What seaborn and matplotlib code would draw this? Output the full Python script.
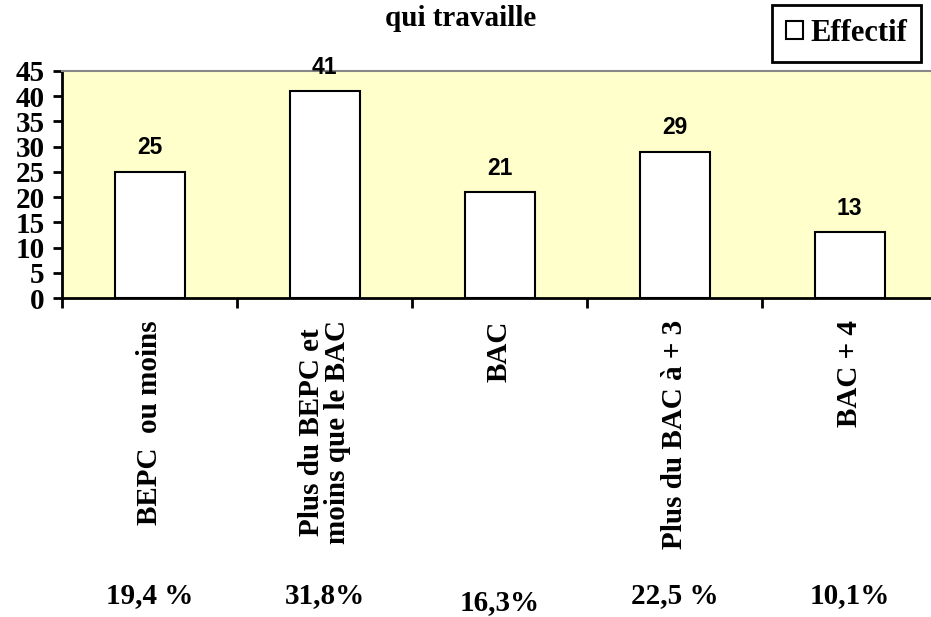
import pandas as pd
import matplotlib.pyplot as plt
import matplotlib.transforms as mtransforms
from matplotlib.patches import Patch
import seaborn as sns

# Data
categories = ["BEPC  ou moins", "Plus du BEPC et\nmoins que le BAC", "BAC",
              "Plus du BAC à + 3", "BAC + 4"]
effectif = [25, 41, 21, 29, 13]
pourcentages = ["19,4 %", "31,8%", "16,3%", "22,5 %", "10,1%"]


def main():
    df = pd.DataFrame({"niveau": categories, "effectif": effectif})

    sns.set_theme(style="white")
    plt.rcParams["font.family"] = ["Liberation Serif", "DejaVu Serif"]
    plt.rcParams["text.color"] = "black"
    plt.rcParams["xtick.color"] = "black"
    plt.rcParams["ytick.color"] = "black"
    plt.rcParams["xtick.labelcolor"] = "black"
    plt.rcParams["ytick.labelcolor"] = "black"

    fig = plt.figure(figsize=(9.31, 6.17), dpi=100)
    ax = fig.add_axes([62 / 931, 0.517, 875 / 931, 0.368])

    sns.barplot(data=df, x="niveau", y="effectif", color="white",
                edgecolor="black", linewidth=1.5, width=0.4, saturation=1, ax=ax)
    ax.set_facecolor("#FFFFCC")
    ax.set_xlim(-0.5, len(categories) - 0.5)
    ax.set_ylim(0, 45)
    ax.set_yticks(range(0, 46, 5))
    ax.set_xlabel("")
    ax.set_ylabel("")

    # spines
    for side in ["left", "bottom"]:
        ax.spines[side].set_color("black")
        ax.spines[side].set_linewidth(2)
    ax.spines["top"].set_color("#888888")
    ax.spines["top"].set_linewidth(1.5)
    ax.spines["right"].set_visible(False)

    # ticks: Excel-like, x ticks at category boundaries
    ax.set_xticks([i - 0.5 for i in range(len(categories) + 1)], minor=True)
    ax.tick_params(axis="x", which="minor", length=7, width=2, color="black",
                   direction="out", bottom=True)
    ax.tick_params(axis="x", which="major", length=0, pad=16)
    ax.tick_params(axis="y", length=6.5, width=2, color="black",
                   direction="out", left=True, pad=6)
    ax.set_xticks(range(len(categories)))
    ax.set_xticklabels(categories, rotation=90, fontsize=21, fontweight="bold",
                       va="top", ha="center", multialignment="center",
                       linespacing=0.95, color="black")
    for lab in ax.get_yticklabels():
        lab.set_fontsize(21)
        lab.set_fontweight("bold")
        lab.set_color("black")

    # value labels
    ax.bar_label(ax.containers[0], padding=9, fontsize=16.5, fontweight="bold",
                 family="Liberation Sans", color="black")

    # percentages under the categories
    trans = mtransforms.blended_transform_factory(ax.transData, fig.transFigure)
    for i, txt in enumerate(pourcentages):
        y = 1 - 603 / 617 if i == 2 else 1 - 596 / 617
        ax.text(i, y, txt, transform=trans, ha="center", va="center",
                fontsize=21, fontweight="bold", color="black", clip_on=False)

    # title (second line of the original title)
    fig.text(461 / 931, 1 - 18 / 617, "qui travaille", ha="center", va="center",
             fontsize=21, fontweight="bold", color="black")

    # legend
    handle = Patch(facecolor="white", edgecolor="black", linewidth=1.5)
    leg = fig.legend([handle], ["Effectif"], loc="upper right",
                     bbox_to_anchor=(921 / 931, 1 - 5 / 617),
                     prop={"family": "Liberation Serif", "weight": "bold", "size": 22},
                     fancybox=False, framealpha=1, edgecolor="black",
                     handlelength=0.55, handleheight=0.55, handletextpad=0.25,
                     borderpad=0.45, borderaxespad=0)
    leg.get_frame().set_linewidth(2)
    for t in leg.get_texts():
        t.set_color("black")

    fig.savefig("out.png", dpi=100)
    plt.close(fig)


if __name__ == "__main__":
    main()
